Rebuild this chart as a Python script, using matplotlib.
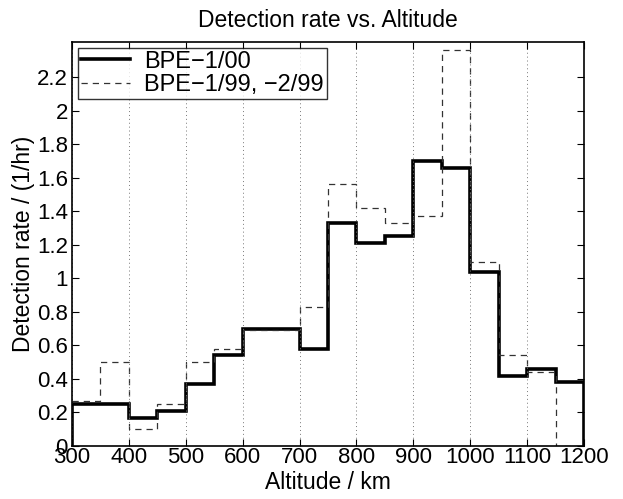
import numpy as np
import matplotlib.pyplot as plt

plt.rcParams['font.family'] = ['Liberation Sans', 'DejaVu Sans']

# bin edges (km) and rates (1/hr)
edges = np.arange(300, 1201, 50)
rate_00 = [0.25, 0.25, 0.17, 0.21, 0.37, 0.54, 0.70, 0.70, 0.58,
           1.33, 1.21, 1.25, 1.70, 1.66, 1.04, 0.42, 0.46, 0.38]
rate_99 = [0.27, 0.50, 0.10, 0.25, 0.50, 0.58, 0.69, 0.69, 0.83,
           1.56, 1.42, 1.33, 1.37, 2.36, 1.10, 0.54, 0.44, 0.0]

fig = plt.figure(figsize=(6.23, 4.99), dpi=100)
ax = fig.add_axes([72/623, 1 - 446/499, (584-72)/623, (446-42)/499])

ax.stairs(rate_00, edges, color='black', linewidth=2.6, label='BPE\u22121/00')
ax.stairs(rate_99, edges, color='#333333', linewidth=0.9,
          linestyle=(0, (5, 4)), label='BPE\u22121/99, \u22122/99')

ax.set_xlim(300, 1200)
ax.set_ylim(0, 2.41)
ax.set_xticks(np.arange(300, 1201, 100))
yt = np.round(np.arange(0, 2.21, 0.2), 1)
ax.set_yticks(yt)
ax.set_yticklabels([('%g' % v) for v in yt])
ax.grid(axis='x', linestyle=(0, (1, 3)), color='#777777', linewidth=0.7)
ax.tick_params(direction='in', top=True, right=True, labelsize=16, length=5)
ax.tick_params(axis='x', pad=1)
ax.tick_params(axis='y', pad=3)
for s in ax.spines.values():
    s.set_linewidth(1.2)

ax.set_title('Detection rate vs. Altitude', fontsize=16.5, pad=11)
ax.set_xlabel('Altitude / km', fontsize=16.5, labelpad=2)
ax.set_ylabel('Detection rate / (1/hr)', fontsize=16.5, labelpad=1)

leg = ax.legend(loc='upper left', fontsize=17, frameon=True, fancybox=False,
                handlelength=2.1, borderaxespad=0.25, borderpad=0.12,
                labelspacing=0.05, handletextpad=0.6)
leg.get_frame().set_edgecolor('black')
leg.get_frame().set_linewidth(1.0)

fig.savefig('out.png', dpi=100)
